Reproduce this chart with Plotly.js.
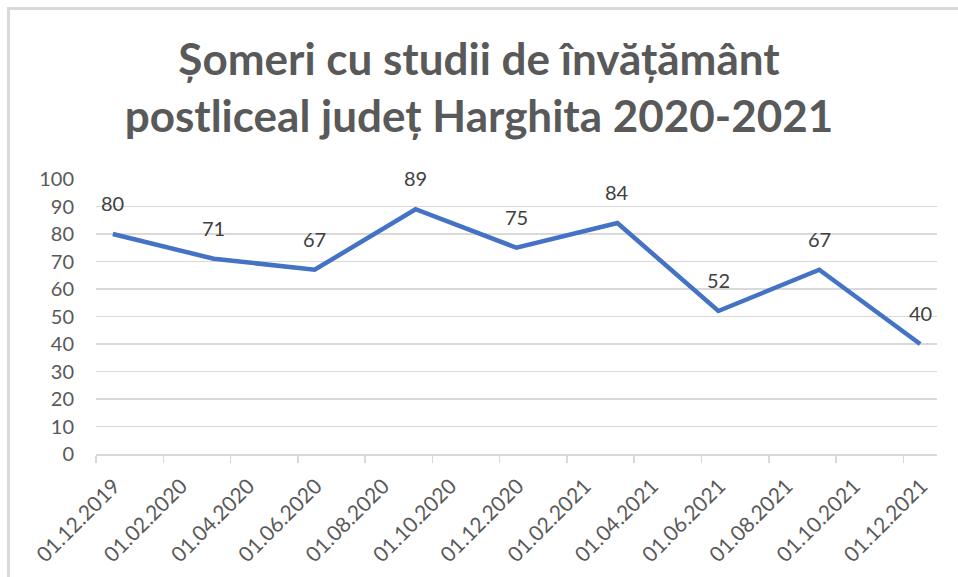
<!DOCTYPE html>
<html>
<head>
<meta charset="utf-8">
<script src="https://cdn.plot.ly/plotly-3.0.1.min.js"></script>
<style>
  html, body { margin: 0; padding: 0; width: 958px; height: 577px; overflow: hidden; background: #fff; }
  #frame { position: absolute; left: 7px; top: 7px; width: 1000px; height: 700px; border: 3px solid #D9D9D9; box-sizing: border-box; }
  #chart { position: absolute; left: 0; top: 0; width: 958px; height: 577px; }
</style>
</head>
<body>
<div id="frame"></div>
<div id="chart"></div>
<script>
// Data
const pointDates = ["01.12.2019", "01.03.2020", "01.06.2020", "01.09.2020", "01.12.2020", "01.03.2021", "01.06.2021", "01.09.2021", "01.12.2021"];
const values = [80, 71, 67, 89, 75, 84, 52, 67, 40];
const tickLabels = ["01.12.2019", "01.02.2020", "01.04.2020", "01.06.2020", "01.08.2020", "01.10.2020", "01.12.2020", "01.02.2021", "01.04.2021", "01.06.2021", "01.08.2021", "01.10.2021", "01.12.2021"];
const titleText = "Șomeri cu studii de învățământ<br>postliceal județ Harghita 2020-2021";

// Month-based axis (like Excel's date axis with base unit = months)
function monthIndex(s) {
  const p = s.split(".");
  return (parseInt(p[2], 10) - 2019) * 12 + parseInt(p[1], 10) - 12;
}
const xs = pointDates.map(d => monthIndex(d) + 0.5);
const tickVals = tickLabels.map(monthIndex);

const FONT = "Lato, 'Open Sans', sans-serif";

const trace = {
  type: "scatter",
  mode: "lines",
  x: xs,
  y: values,
  line: { color: "#4472C4", width: 4.5 },
  hoverinfo: "skip"
};

const annotations = xs.map((x, i) => ({
  x: x, y: values[i], xref: "x", yref: "y",
  text: String(values[i]), showarrow: false, yshift: 31,
  font: { family: FONT, size: 20, color: "#404040" }
}));

const layout = {
  width: 958, height: 577,
  paper_bgcolor: "rgba(0,0,0,0)", plot_bgcolor: "rgba(0,0,0,0)",
  margin: { l: 96, r: 21, t: 179, b: 123 },
  showlegend: false,
  title: {
    text: titleText,
    font: { family: FONT, size: 44, color: "#595959", weight: "bold" },
    x: 0.5, xanchor: "center", xref: "container",
    y: 1 - 75 / 577, yanchor: "top", yref: "container"
  },
  xaxis: {
    type: "linear", range: [0, 25],
    tickmode: "array", tickvals: tickVals, ticktext: tickLabels,
    tickangle: -45,
    ticks: "outside", ticklen: 7, tickwidth: 1.5, tickcolor: "#D9D9D9",
    ticklabelstandoff: 3, ticklabelshift: 18,
    showline: true, linecolor: "#D9D9D9", linewidth: 1.5,
    showgrid: false, zeroline: false,
    tickfont: { family: FONT, size: 21, color: "#595959" }
  },
  yaxis: {
    range: [0, 100], dtick: 10, tick0: 0,
    showgrid: true, gridcolor: "#D9D9D9", gridwidth: 1.5,
    zeroline: false, showline: false, ticks: "",
    ticklabelstandoff: 21,
    tickfont: { family: FONT, size: 20, color: "#595959" }
  },
  annotations: annotations
};

Plotly.newPlot("chart", [trace], layout, { displayModeBar: false, staticPlot: true });
</script>
</body>
</html>
